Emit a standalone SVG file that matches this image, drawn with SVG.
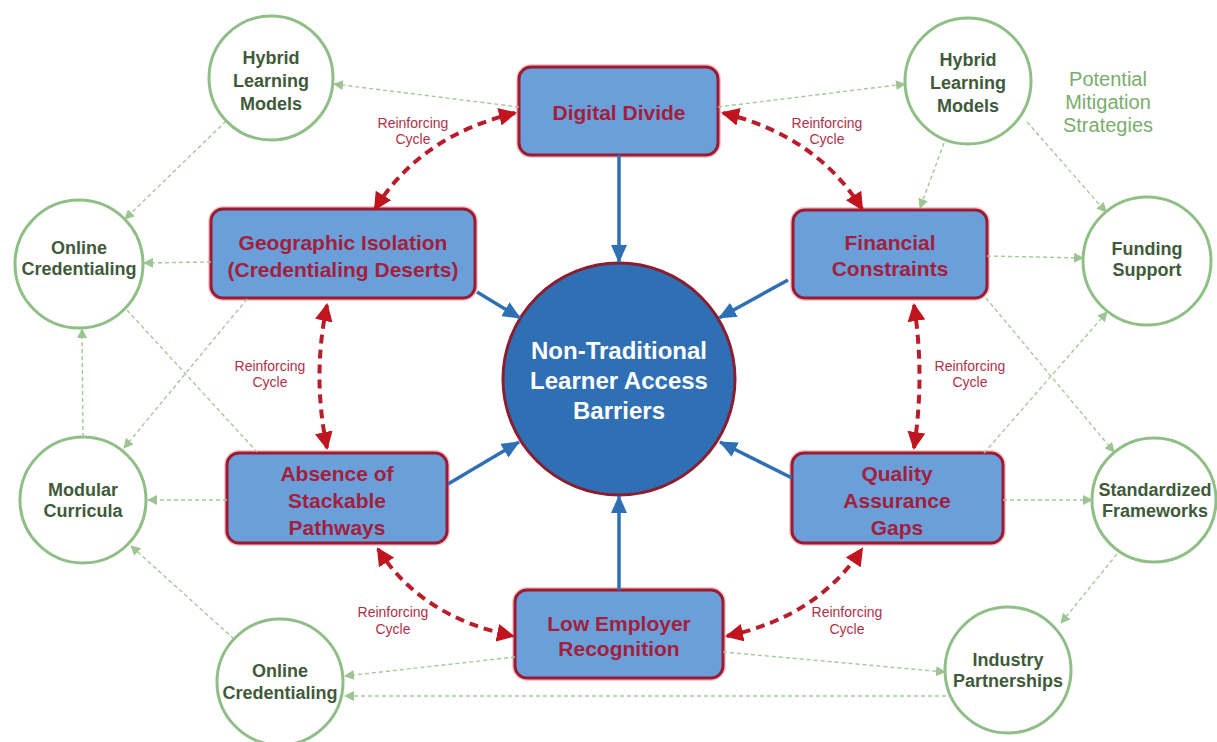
<svg xmlns="http://www.w3.org/2000/svg" width="1217" height="742" viewBox="0 0 1217 742">
<style>
.box{fill:#6a9fda;stroke:#9b1b33;stroke-width:3}
.glow{fill:none;stroke:#e8606e;stroke-width:6;opacity:0.35}
.bt{font-family:"Liberation Sans",Arial,sans-serif;font-weight:bold;font-size:21px;fill:#a3203c;text-anchor:middle;dominant-baseline:central}
.gc{fill:#ffffff;stroke:#8fbf86;stroke-width:3}
.gt{font-family:"Liberation Sans",Arial,sans-serif;font-weight:bold;font-size:18px;fill:#3f5a3b;text-anchor:middle;dominant-baseline:central}
.ct{font-family:"Liberation Sans",Arial,sans-serif;font-weight:bold;font-size:24px;fill:#ffffff;text-anchor:middle;dominant-baseline:central}
.rl{font-family:"Liberation Sans",Arial,sans-serif;font-size:14px;fill:#b0304a;text-anchor:middle;dominant-baseline:central}
.pm{font-family:"Liberation Sans",Arial,sans-serif;font-size:20px;fill:#79ad6d;text-anchor:middle;dominant-baseline:central}
.red{fill:none;stroke:#b81d2b;stroke-width:4;stroke-dasharray:9 6;marker-start:url(#ra);marker-end:url(#ra)}
.blue{fill:none;stroke:#2f6fb3;stroke-width:3.5;marker-end:url(#ba)}
.grn{fill:none;stroke:#a3c89a;stroke-width:1.4;stroke-dasharray:4 3;marker-end:url(#ga)}
.grn0{fill:none;stroke:#a3c89a;stroke-width:1.4;stroke-dasharray:4 3}
</style>
<defs>
<marker id="ra" viewBox="0 0 18 18" refX="16" refY="9" markerWidth="18" markerHeight="18" markerUnits="userSpaceOnUse" orient="auto-start-reverse"><path d="M0,0 L18,9 L0,18 z" fill="#c0141f"/></marker>
<marker id="ba" viewBox="0 0 18 16" refX="17" refY="8" markerWidth="18" markerHeight="16" markerUnits="userSpaceOnUse" orient="auto"><path d="M0,0 L18,8 L0,16 z" fill="#2f6fb3"/></marker>
<marker id="ga" viewBox="0 0 10 10" refX="9" refY="5" markerWidth="10" markerHeight="10" markerUnits="userSpaceOnUse" orient="auto"><path d="M0,0 L10,5 L0,10 z" fill="#9cc593"/></marker>
</defs>
<rect width="1217" height="742" fill="#ffffff"/>

<g id="nodes">
<g id="center">
<circle cx="619" cy="379" r="116" fill="#2f6fb3" stroke="#8c1d31" stroke-width="3"/>
<text class="ct" x="619" y="350">Non-Traditional</text>
<text class="ct" x="619" y="380">Learner Access</text>
<text class="ct" x="619" y="410">Barriers</text>
</g>
<g id="digital-divide">
<rect class="glow" x="519" y="67" width="199" height="88" rx="12"/>
<rect class="box" x="519" y="67" width="199" height="88" rx="12"/>
<text class="bt" x="619" y="112">Digital Divide</text>
</g>
<g id="geographic-isolation">
<rect class="glow" x="211" y="209" width="264" height="89" rx="12"/>
<rect class="box" x="211" y="209" width="264" height="89" rx="12"/>
<text class="bt" x="343" y="242">Geographic Isolation</text>
<text class="bt" x="343" y="269">(Credentialing Deserts)</text>
</g>
<g id="financial-constraints">
<rect class="glow" x="793" y="210" width="194" height="88" rx="12"/>
<rect class="box" x="793" y="210" width="194" height="88" rx="12"/>
<text class="bt" x="890" y="242">Financial</text>
<text class="bt" x="890" y="268">Constraints</text>
</g>
<g id="absence-stackable">
<rect class="glow" x="227" y="453" width="220" height="90" rx="12"/>
<rect class="box" x="227" y="453" width="220" height="90" rx="12"/>
<text class="bt" x="337" y="473">Absence of</text>
<text class="bt" x="337" y="500">Stackable</text>
<text class="bt" x="337" y="527">Pathways</text>
</g>
<g id="quality-assurance">
<rect class="glow" x="792" y="453" width="211" height="90" rx="12"/>
<rect class="box" x="792" y="453" width="211" height="90" rx="12"/>
<text class="bt" x="897" y="473">Quality</text>
<text class="bt" x="897" y="500">Assurance</text>
<text class="bt" x="897" y="527">Gaps</text>
</g>
<g id="low-employer">
<rect class="glow" x="515" y="590" width="208" height="88" rx="12"/>
<rect class="box" x="515" y="590" width="208" height="88" rx="12"/>
<text class="bt" x="619" y="623">Low Employer</text>
<text class="bt" x="619" y="648">Recognition</text>
</g>
<g id="hybrid-left">
<circle class="gc" cx="271" cy="78" r="62"/>
<text class="gt" x="271" y="58">Hybrid</text>
<text class="gt" x="271" y="81">Learning</text>
<text class="gt" x="271" y="104">Models</text>
</g>
<g id="hybrid-right">
<circle class="gc" cx="968" cy="81" r="63"/>
<text class="gt" x="968" y="60">Hybrid</text>
<text class="gt" x="968" y="83">Learning</text>
<text class="gt" x="968" y="106">Models</text>
</g>
<g id="online-cred-left">
<circle class="gc" cx="79" cy="264" r="64"/>
<text class="gt" x="79" y="248">Online</text>
<text class="gt" x="79" y="269">Credentialing</text>
</g>
<g id="funding-support">
<circle class="gc" cx="1147" cy="261" r="64"/>
<text class="gt" x="1147" y="249">Funding</text>
<text class="gt" x="1147" y="270">Support</text>
</g>
<g id="modular-curricula">
<circle class="gc" cx="83" cy="500" r="63"/>
<text class="gt" x="83" y="490">Modular</text>
<text class="gt" x="83" y="511">Curricula</text>
</g>
<g id="standardized-frameworks">
<circle class="gc" cx="1154" cy="500" r="62"/>
<text class="gt" x="1155" y="490">Standardized</text>
<text class="gt" x="1155" y="511">Frameworks</text>
</g>
<g id="online-cred-bottom">
<circle class="gc" cx="280" cy="682" r="63"/>
<text class="gt" x="280" y="671">Online</text>
<text class="gt" x="280" y="693">Credentialing</text>
</g>
<g id="industry-partnerships">
<circle class="gc" cx="1008" cy="670" r="63"/>
<text class="gt" x="1008" y="660">Industry</text>
<text class="gt" x="1008" y="681">Partnerships</text>
</g>
<g id="legend">
<text class="pm" x="1108" y="79">Potential</text>
<text class="pm" x="1108" y="102">Mitigation</text>
<text class="pm" x="1108" y="125">Strategies</text>
</g>
</g>

<g id="connectors">
<path class="grn" d="M519,107 L334,84"/>
<path class="grn" d="M718,107 L905,84"/>
<path class="grn" d="M226,121 L125,219"/>
<path class="grn" d="M211,262 L144,263"/>
<path class="grn" d="M247,299 L124,448"/>
<path class="grn0" d="M127,310 L257,452"/>
<path class="grn" d="M83,437 L82,329"/>
<path class="grn" d="M227,500 L148,500"/>
<path class="grn" d="M234,639 L131,546"/>
<path class="grn" d="M515,657 L345,676"/>
<path class="grn" d="M946,696 L345,696"/>
<path class="grn" d="M723,652 L945,672"/>
<path class="grn" d="M1117,554 L1061,623"/>
<path class="grn" d="M1003,500 L1092,500"/>
<path class="grn" d="M984,453 L1107,312"/>
<path class="grn" d="M986,298 L1114,452"/>
<path class="grn" d="M987,256 L1083,258"/>
<path class="grn" d="M944,143 L920,208"/>
<path class="grn" d="M1027,122 L1106,212"/>

<path class="blue" d="M619,155 L619,262"/>
<path class="blue" d="M477,292 L520,318"/>
<path class="blue" d="M788,280 L719,318"/>
<path class="blue" d="M448,484 L519,442"/>
<path class="blue" d="M792,478 L720,442"/>
<path class="blue" d="M619,590 L619,496"/>

<path class="red" d="M515,113 Q420,136 375,209"/>
<path class="red" d="M723,113 Q817,136 862,209"/>
<path class="red" d="M327,305 Q312,376 327,448"/>
<path class="red" d="M914,305 Q925,376 914,448"/>
<path class="red" d="M378,549 Q421,617 513,636"/>
<path class="red" d="M727,636 Q817,617 862,549"/>

<text class="rl" x="413" y="123">Reinforcing</text>
<text class="rl" x="413" y="139">Cycle</text>
<text class="rl" x="827" y="123">Reinforcing</text>
<text class="rl" x="827" y="139">Cycle</text>
<text class="rl" x="270" y="366">Reinforcing</text>
<text class="rl" x="270" y="382">Cycle</text>
<text class="rl" x="970" y="366">Reinforcing</text>
<text class="rl" x="970" y="382">Cycle</text>
<text class="rl" x="393" y="612">Reinforcing</text>
<text class="rl" x="393" y="629">Cycle</text>
<text class="rl" x="847" y="612">Reinforcing</text>
<text class="rl" x="847" y="629">Cycle</text>
</g>
</svg>
